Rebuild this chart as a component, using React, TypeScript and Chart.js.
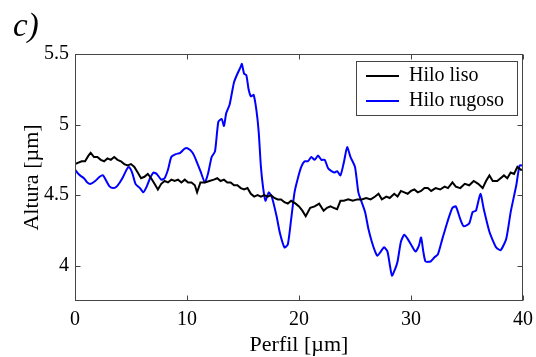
import React, { useEffect, useRef } from 'react';
import { Chart, registerables } from 'chart.js';

Chart.register(...registerables);

const lisoX = [0, 0.3, 0.6, 0.9, 1.2, 1.4, 1.7, 2.0, 2.3, 2.6, 2.9, 3.2, 3.5, 3.8, 4.1, 4.4, 4.7, 5.0, 5.3, 5.6, 5.9, 6.2, 6.5, 6.8, 7.1, 7.4, 7.7, 8.0, 8.3, 8.6, 8.9, 9.2, 9.5, 9.8, 10.1, 10.4, 10.7, 10.9, 11.2, 11.6, 12.0, 12.4, 12.7, 13.0, 13.3, 13.6, 13.9, 14.2, 14.5, 14.8, 15.1, 15.4, 15.7, 16.0, 16.3, 16.6, 16.9, 17.2, 17.5, 17.8, 18.1, 18.4, 18.7, 19.0, 19.3, 19.7, 20.0, 20.3, 20.6, 21.0, 21.4, 21.8, 22.2, 22.5, 22.8, 23.1, 23.4, 23.7, 24.0, 24.4, 24.8, 25.2, 25.6, 26.0, 26.4, 26.8, 27.1, 27.4, 27.8, 28.1, 28.5, 28.8, 29.1, 29.4, 29.7, 30.0, 30.3, 30.6, 30.9, 31.2, 31.5, 31.8, 32.2, 32.6, 33.0, 33.3, 33.7, 34.0, 34.4, 34.8, 35.2, 35.6, 36.0, 36.4, 36.7, 37.0, 37.3, 37.7, 38.0, 38.3, 38.6, 38.9, 39.2, 39.5, 39.8, 40.0];
const lisoY = [4.72, 4.73, 4.74, 4.74, 4.78, 4.80, 4.77, 4.77, 4.75, 4.74, 4.76, 4.75, 4.77, 4.75, 4.74, 4.72, 4.71, 4.72, 4.70, 4.66, 4.62, 4.63, 4.65, 4.62, 4.58, 4.54, 4.58, 4.60, 4.59, 4.61, 4.60, 4.61, 4.59, 4.61, 4.59, 4.59, 4.57, 4.52, 4.59, 4.59, 4.60, 4.61, 4.62, 4.60, 4.61, 4.59, 4.59, 4.57, 4.57, 4.55, 4.54, 4.55, 4.51, 4.49, 4.50, 4.49, 4.50, 4.49, 4.50, 4.48, 4.47, 4.47, 4.45, 4.44, 4.46, 4.44, 4.42, 4.39, 4.35, 4.41, 4.42, 4.44, 4.39, 4.41, 4.42, 4.41, 4.40, 4.46, 4.46, 4.47, 4.46, 4.47, 4.47, 4.48, 4.47, 4.49, 4.51, 4.47, 4.49, 4.48, 4.51, 4.49, 4.53, 4.52, 4.51, 4.53, 4.54, 4.52, 4.53, 4.55, 4.55, 4.53, 4.55, 4.54, 4.56, 4.55, 4.59, 4.56, 4.55, 4.58, 4.57, 4.60, 4.58, 4.55, 4.60, 4.64, 4.60, 4.60, 4.62, 4.64, 4.62, 4.66, 4.65, 4.70, 4.68, 4.68];

const rugosoX = [0, 0.2, 0.45, 0.8, 1.1, 1.4, 1.8, 2.2, 2.5, 2.8, 3.1, 3.4, 3.7, 4.0, 4.3, 4.6, 4.8, 5.1, 5.4, 5.8, 6.1, 6.4, 6.7, 7.0, 7.3, 7.7, 8.0, 8.3, 8.6, 9.0, 9.4, 9.8, 10.1, 10.5, 10.8, 11.2, 11.6, 11.9, 12.2, 12.5, 12.8, 13.1, 13.3, 13.5, 13.8, 14.0, 14.2, 14.5, 14.8, 14.9, 15.1, 15.3, 15.5, 15.7, 15.95, 16.2, 16.4, 16.6, 16.8, 17.0, 17.3, 17.6, 18.0, 18.3, 18.7, 19.0, 19.3, 19.6, 19.9, 20.2, 20.5, 20.8, 21.1, 21.4, 21.7, 22.0, 22.3, 22.6, 22.9, 23.2, 23.4, 23.7, 24.0, 24.3, 24.6, 25.0, 25.3, 25.6, 25.9, 26.2, 26.5, 26.8, 27.0, 27.3, 27.6, 27.9, 28.1, 28.3, 28.6, 28.8, 29.1, 29.4, 29.7, 30.0, 30.4, 30.7, 30.9, 31.1, 31.3, 31.75, 32.1, 32.4, 32.8, 33.25, 33.7, 34.0, 34.4, 34.7, 35.2, 35.5, 35.8, 36.2, 36.5, 37.0, 37.3, 37.6, 38.0, 38.5, 38.9, 39.4, 39.7, 40.0];
const rugosoY = [4.68, 4.66, 4.64, 4.62, 4.59, 4.58, 4.60, 4.63, 4.64, 4.60, 4.56, 4.55, 4.56, 4.59, 4.63, 4.68, 4.70, 4.66, 4.58, 4.55, 4.52, 4.56, 4.62, 4.66, 4.65, 4.61, 4.62, 4.68, 4.77, 4.79, 4.80, 4.83, 4.83, 4.80, 4.75, 4.67, 4.59, 4.66, 4.77, 4.81, 5.02, 5.04, 4.99, 5.08, 5.14, 5.22, 5.30, 5.36, 5.41, 5.43, 5.36, 5.35, 5.25, 5.20, 5.21, 5.10, 4.95, 4.70, 4.55, 4.46, 4.52, 4.48, 4.35, 4.23, 4.13, 4.15, 4.33, 4.52, 4.62, 4.70, 4.74, 4.74, 4.77, 4.75, 4.78, 4.75, 4.75, 4.69, 4.67, 4.66, 4.67, 4.64, 4.73, 4.84, 4.77, 4.70, 4.52, 4.45, 4.38, 4.26, 4.17, 4.10, 4.07, 4.10, 4.13, 4.10, 4.01, 3.93, 3.98, 4.03, 4.17, 4.22, 4.19, 4.15, 4.10, 4.14, 4.20, 4.10, 4.03, 4.03, 4.06, 4.08, 4.19, 4.31, 4.41, 4.42, 4.33, 4.28, 4.30, 4.38, 4.39, 4.51, 4.40, 4.24, 4.18, 4.13, 4.11, 4.19, 4.38, 4.57, 4.71, 4.71];

const xTicks = [0, 10, 20, 30, 40];
const yTicks = [4, 4.5, 5, 5.5];
const seriesLabels = ['Hilo liso', 'Hilo rugoso'];
const seriesColors = ['#000000', '#0000ff'];
const xTitle = 'Perfil [\u00b5m]';
const yTitle = 'Altura [\u00b5m]';
const panelLabel = 'c)';

const SERIF = "'Liberation Serif', 'Times New Roman', serif";

export default function App() {
  const ref = useRef<HTMLCanvasElement>(null);
  useEffect(() => {
    document.body.style.margin = '0';
    const canvas = ref.current;
    if (!canvas) return;

    const framePlugin = {
      id: 'frame',
      afterDatasetsDraw(chart: any) {
        const { ctx, chartArea, scales } = chart;
        const { left, right, top, bottom } = chartArea;
        ctx.save();
        ctx.strokeStyle = '#444';
        ctx.lineWidth = 1;
        const L = Math.round(left) + 0.5, R = Math.round(right) - 0.5;
        const T = Math.round(top) + 0.5, B = Math.round(bottom) - 0.5;
        ctx.strokeRect(L, T, R - L, B - T);
        const tl = 5;
        ctx.beginPath();
        xTicks.forEach((v) => {
          const px = Math.round(scales.x.getPixelForValue(v)) + 0.5;
          ctx.moveTo(px, B); ctx.lineTo(px, B - tl);
          ctx.moveTo(px, T); ctx.lineTo(px, T + tl);
        });
        yTicks.forEach((v) => {
          const py = Math.round(scales.y.getPixelForValue(v)) + 0.5;
          ctx.moveTo(L, py); ctx.lineTo(L + tl, py);
          ctx.moveTo(R, py); ctx.lineTo(R - tl, py);
        });
        ctx.stroke();
        ctx.restore();
      },
      afterDraw(chart: any) {
        const { ctx } = chart;
        ctx.save();
        // legend box
        const bx = 356, by = 61, bw = 161, bh = 54;
        ctx.fillStyle = '#ffffff';
        ctx.fillRect(bx, by, bw, bh);
        ctx.strokeStyle = '#444';
        ctx.lineWidth = 1;
        ctx.strokeRect(bx + 0.5, by + 0.5, bw, bh);
        ctx.font = `20px ${SERIF}`;
        ctx.textBaseline = 'middle';
        ctx.textAlign = 'left';
        seriesLabels.forEach((lab, i) => {
          const yy = by + 15 + i * 25;
          ctx.strokeStyle = seriesColors[i];
          ctx.lineWidth = 2;
          ctx.beginPath();
          ctx.moveTo(bx + 10, yy);
          ctx.lineTo(bx + 43, yy);
          ctx.stroke();
          ctx.fillStyle = '#000';
          ctx.fillText(lab, bx + 53, yy);
        });
        // panel label
        ctx.font = `italic 33px ${SERIF}`;
        ctx.textBaseline = 'alphabetic';
        ctx.fillStyle = '#000';
        ctx.fillText(panelLabel, 13, 36);
        ctx.restore();
      },
    };

    const chart = new Chart(canvas, {
      type: 'line',
      data: {
        datasets: [
          {
            label: seriesLabels[0],
            data: lisoX.map((x, i) => ({ x, y: lisoY[i] })),
            borderColor: seriesColors[0],
            borderWidth: 2,
            pointRadius: 0,
            tension: 0,
            fill: false,
          },
          {
            label: seriesLabels[1],
            data: rugosoX.map((x, i) => ({ x, y: rugosoY[i] })),
            borderColor: seriesColors[1],
            borderWidth: 2,
            pointRadius: 0,
            tension: 0.2,
            fill: false,
          },
        ],
      },
      options: {
        animation: false,
        responsive: false,
        devicePixelRatio: 1,
        layout: { padding: { top: 54, right: 13, left: 0, bottom: 0 } },
        plugins: { legend: { display: false }, tooltip: { enabled: false } },
        scales: {
          x: {
            type: 'linear',
            min: 0,
            max: 40,
            grid: { display: false, drawTicks: false },
            border: { display: false },
            afterBuildTicks: (s: any) => { s.ticks = xTicks.map((v) => ({ value: v })); },
            afterFit: (s: any) => { s.height = 56; s.paddingLeft = 0; s.paddingRight = 0; },
            ticks: {
              color: '#000',
              padding: 9,
              maxRotation: 0,
              font: { family: SERIF, size: 20, lineHeight: 1 },
              callback: (v: any) => String(v),
            },
            title: {
              display: true,
              text: xTitle,
              color: '#000',
              font: { family: SERIF, size: 22, lineHeight: 1 },
              padding: { top: 0, bottom: 1 },
            },
          },
          y: {
            type: 'linear',
            min: 3.75,
            max: 5.5,
            grid: { display: false, drawTicks: false },
            border: { display: false },
            afterBuildTicks: (s: any) => { s.ticks = yTicks.map((v) => ({ value: v })); },
            afterFit: (s: any) => { s.width = 75; s.paddingTop = 0; s.paddingBottom = 0; },
            ticks: {
              color: '#000',
              padding: 6,
              font: { family: SERIF, size: 20, lineHeight: 1 },
              callback: (v: any) => String(v),
            },
            title: {
              display: true,
              text: yTitle,
              color: '#000',
              font: { family: SERIF, size: 22, lineHeight: 1 },
              padding: { top: 21, bottom: 0 },
            },
          },
        },
      },
      plugins: [framePlugin],
    });
    return () => chart.destroy();
  }, []);

  return (
    <div style={{ position: 'fixed', left: 0, top: 0, width: 536, height: 357, background: '#fff' }}>
      <canvas ref={ref} width={536} height={357} style={{ width: 536, height: 357, display: 'block' }} />
    </div>
  );
}
